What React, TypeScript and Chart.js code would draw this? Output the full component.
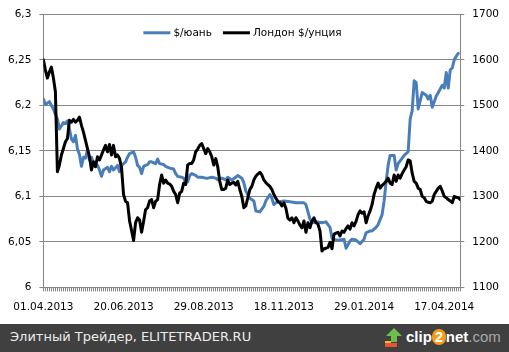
import React, { useEffect, useRef } from 'react';
import { Chart, registerables } from 'chart.js';

Chart.register(...registerables);

// ---- data ----
const tickDays = [0, 40, 80, 120, 160, 200];
const tickLabels = ['01.04.2013', '20.06.2013', '29.08.2013', '18.11.2013', '29.01.2014', '17.04.2014'];

const yuanLabel = '$/юань';
const goldLabel = 'Лондон $/унция';

// trading-day index of each yuan reading
const cnyDays = [
  0, 1, 3, 5, 6, 7, 8, 10, 11, 12,
  13, 14, 15, 16, 17, 18, 19, 20, 21, 22,
  23, 24, 25, 26, 27, 28, 29, 30, 32, 33,
  34, 35, 37, 38, 39, 41, 42, 43, 45, 46,
  47, 48, 49, 50, 52, 53, 54, 56, 57, 58,
  60, 61, 63, 65, 66, 67, 69, 70, 71, 72,
  73, 74, 76, 77, 79, 81, 82, 84, 86, 87,
  89, 91, 92, 94, 96, 97, 99, 100, 101, 103,
  105, 106, 108, 110, 111, 113, 114, 115, 116, 118,
  120, 123, 126, 130, 131, 133, 134, 136, 139, 141,
  143, 144, 146, 148, 150, 151, 153, 154, 156, 158,
  160, 161, 163, 164, 166, 167, 169, 170, 171, 172,
  173, 175, 176, 177, 179, 180, 182, 183, 184, 185,
  186, 187, 188, 189, 191, 192, 193, 194, 196, 198,
  199, 200, 201, 202, 203, 204, 205, 206, 207,
];
const cnyRates = [
  6.207, 6.201, 6.204, 6.196, 6.19, 6.185, 6.174, 6.181, 6.18, 6.183,
  6.174, 6.163, 6.16, 6.167, 6.152, 6.146, 6.133, 6.143, 6.142, 6.151,
  6.14, 6.143, 6.136, 6.133, 6.134, 6.129, 6.122, 6.129, 6.132, 6.127,
  6.133, 6.129, 6.134, 6.127, 6.134, 6.138, 6.143, 6.147, 6.149, 6.143,
  6.134, 6.132, 6.125, 6.133, 6.135, 6.138, 6.138, 6.136, 6.141, 6.136,
  6.135, 6.133, 6.131, 6.13, 6.125, 6.122, 6.121, 6.12, 6.115, 6.116,
  6.123, 6.125, 6.123, 6.121, 6.121, 6.12, 6.12, 6.121, 6.12, 6.118,
  6.12, 6.118, 6.121, 6.118, 6.121, 6.123, 6.12, 6.115, 6.106, 6.098,
  6.095, 6.084, 6.083, 6.089, 6.095, 6.102, 6.098, 6.091, 6.093, 6.094,
  6.095, 6.094, 6.093, 6.093, 6.091, 6.075, 6.071, 6.072, 6.071, 6.072,
  6.066, 6.054, 6.052, 6.052, 6.053, 6.043, 6.051, 6.053, 6.052, 6.048,
  6.053, 6.06, 6.062, 6.062, 6.066, 6.069, 6.08, 6.095, 6.116, 6.134,
  6.145, 6.145, 6.129, 6.136, 6.142, 6.145, 6.149, 6.185, 6.194, 6.227,
  6.225, 6.196, 6.205, 6.214, 6.211, 6.207, 6.211, 6.198, 6.21, 6.218,
  6.222, 6.219, 6.236, 6.219, 6.239, 6.241, 6.25, 6.254, 6.257,
];

// London gold fixing, one value per trading day (index 0..208)
const goldPrices = [
  1600, 1578, 1560, 1573, 1584, 1560, 1530, 1354, 1369, 1391,
  1405, 1420, 1427, 1467, 1463, 1469, 1463, 1467, 1474, 1456,
  1441, 1423, 1405, 1387, 1358, 1376, 1365, 1387, 1380, 1391,
  1402, 1412, 1398, 1414, 1391, 1412, 1387, 1391, 1383, 1362,
  1304, 1289, 1286, 1246, 1225, 1203, 1242, 1253, 1248, 1221,
  1245, 1271, 1275, 1290, 1293, 1275, 1289, 1293, 1326, 1347,
  1329, 1336, 1329, 1327, 1322, 1311, 1304, 1286, 1307, 1311,
  1329, 1326, 1369, 1372, 1372, 1380, 1398, 1404, 1412, 1416,
  1405, 1394, 1405, 1398, 1387, 1369, 1383, 1365, 1333, 1315,
  1315, 1318, 1336, 1326, 1329, 1331, 1325, 1333, 1315, 1300,
  1275, 1279, 1297, 1315, 1322, 1336, 1344, 1349, 1353, 1347,
  1336, 1330, 1326, 1322, 1315, 1304, 1296, 1289, 1286, 1279,
  1286, 1274, 1252, 1248, 1253, 1242, 1253, 1246, 1237, 1231,
  1246, 1221, 1242, 1231, 1246, 1253, 1242, 1239, 1224, 1180,
  1185, 1186, 1188, 1199, 1185, 1217, 1219, 1221, 1213, 1224,
  1221, 1229, 1235, 1228, 1242, 1235, 1245, 1260, 1268, 1263,
  1266, 1242, 1257, 1268, 1282, 1304, 1318, 1329, 1318, 1324,
  1328, 1333, 1340, 1329, 1326, 1347, 1333, 1347, 1340, 1350,
  1358, 1365, 1380, 1378, 1351, 1333, 1329, 1318, 1315, 1300,
  1297, 1289, 1287, 1286, 1289, 1304, 1311, 1318, 1322, 1312,
  1300, 1297, 1293, 1290, 1286, 1300, 1298, 1297, 1293,
];

// ---- styles ----
const BLUE = '#4A7EBB';
const BLACK = '#000000';
const GRID = '#868686';
const FONT = 'DejaVu Sans';

const overlayLegend = {
  id: 'overlayLegend',
  afterDraw(chart: any) {
    const { ctx, chartArea } = chart;
    ctx.save();
    ctx.font = `10.5px "${FONT}"`;
    ctx.textBaseline = 'middle';
    ctx.textAlign = 'left';
    let x = chartArea.left + 100;
    const y = chartArea.top + 18.5;
    chart.data.datasets.forEach((ds: any) => {
      ctx.strokeStyle = ds.borderColor;
      ctx.lineWidth = 3;
      ctx.beginPath();
      ctx.moveTo(x, y);
      ctx.lineTo(x + 27, y);
      ctx.stroke();
      x += 30;
      ctx.fillStyle = '#000';
      ctx.fillText(ds.label, x, y);
      x += ctx.measureText(ds.label).width + 11;
    });
    ctx.restore();
  },
};

export default function App() {
  const canvasRef = useRef<HTMLCanvasElement | null>(null);

  useEffect(() => {
    const canvas = canvasRef.current;
    if (!canvas) return;
    const chart = new Chart(canvas, {
      type: 'line',
      data: {
        datasets: [
          {
            label: yuanLabel,
            data: cnyDays.map((d, i) => ({ x: d, y: cnyRates[i] })),
            borderColor: BLUE,
            backgroundColor: BLUE,
            yAxisID: 'y',
            order: 1,
          },
          {
            label: goldLabel,
            data: goldPrices.map((v, i) => ({ x: i, y: v })),
            borderColor: BLACK,
            backgroundColor: BLACK,
            yAxisID: 'y1',
            order: 0,
          },
        ],
      },
      plugins: [overlayLegend],
      options: {
        responsive: false,
        animation: false,
        events: [],
        layout: { padding: { top: 11, right: 2, left: 0, bottom: 0 } },
        plugins: { legend: { display: false }, tooltip: { enabled: false } },
        elements: {
          point: { radius: 0 },
          line: { tension: 0, borderWidth: 3, borderJoinStyle: 'round', borderCapStyle: 'round' },
        },
        scales: {
          x: {
            type: 'linear',
            min: 0,
            max: 208,
            grid: { display: true, drawOnChartArea: false, drawTicks: true, tickLength: 4, color: GRID },
            border: { display: true, color: GRID },
            ticks: {
              stepSize: 1,
              autoSkip: false,
              maxRotation: 0,
              minRotation: 0,
              padding: 10,
              color: '#000',
              font: { family: FONT, size: 10.5 },
              callback: (v: any) => {
                const i = tickDays.indexOf(Math.round(Number(v)));
                return i >= 0 ? tickLabels[i] : '';
              },
            },
          },
          y: {
            position: 'left',
            min: 6,
            max: 6.3,
            grid: { color: GRID, tickLength: 4 },
            border: { display: true, color: GRID },
            ticks: {
              stepSize: 0.05,
              padding: 8,
              color: '#000',
              font: { family: FONT, size: 10.5 },
              callback: (v: any) => String(Math.round(Number(v) * 100) / 100).replace('.', ','),
            },
          },
          y1: {
            position: 'right',
            min: 1100,
            max: 1700,
            grid: { drawOnChartArea: false, tickLength: 4, color: GRID },
            border: { display: true, color: GRID },
            ticks: {
              stepSize: 100,
              padding: 8,
              color: '#000',
              font: { family: FONT, size: 10.5 },
              callback: (v: any) => String(Math.round(Number(v))),
            },
          },
        },
      } as any,
    });
    return () => chart.destroy();
  }, []);

  return (
    <div style={{ position: 'absolute', left: 0, top: 0, width: 509, height: 352, background: '#fff', overflow: 'hidden' }}>
      <canvas ref={canvasRef} width={509} height={324} style={{ display: 'block', width: 509, height: 324 }} />
      <div
        style={{
          position: 'absolute', left: 0, top: 324, width: 509, height: 28, background: '#404040',
        }}
      >
        <span
          style={{
            position: 'absolute', left: 10, top: 5, fontFamily: FONT, fontSize: 13, color: '#ececec', whiteSpace: 'nowrap',
          }}
        >
          Элитный Трейдер, ELITETRADER.RU
        </span>
        <svg width="18" height="20" viewBox="0 0 18 20" style={{ position: 'absolute', left: 385, top: 4 }}>
          <polygon points="9,0 17,8 12,8 12,14 6,14 6,8 1,8" fill="#6cc04a" />
          <rect x="0" y="15" width="12" height="4" fill="#e8542a" />
          <rect x="0" y="13" width="6" height="2" fill="#f6b73c" />
        </svg>
        <span
          style={{
            position: 'absolute', left: 406, top: 4, fontFamily: 'Liberation Sans', fontWeight: 'bold', fontSize: 15,
            color: '#ffffff', whiteSpace: 'nowrap', letterSpacing: 0,
          }}
        >
          clip
          <span style={{ display: 'inline-block', background: '#f39c12', borderRadius: 8, width: 14, height: 16, textAlign: 'center', lineHeight: '16px' }}>2</span>
          net<span style={{ color: '#a8a8a8', fontWeight: 'normal' }}>.com</span>
        </span>
      </div>
    </div>
  );
}
